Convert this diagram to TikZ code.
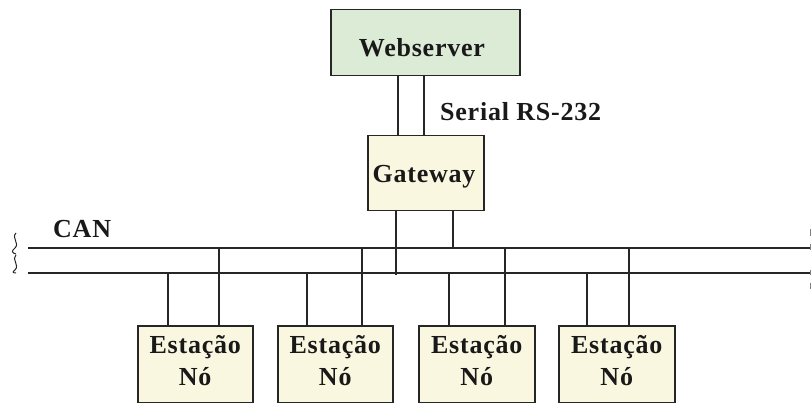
\documentclass[tikz,border=0pt]{standalone}
\usepackage{fontspec}
\setmainfont{Liberation Serif}[LetterSpace=3]
\begin{document}
\begin{tikzpicture}[x=1pt,y=-1pt,
  wire/.style={draw=black!85, line width=1.4pt},
  box/.style={draw=black!85, line width=1.5pt, inner sep=0pt, anchor=north west},
  serverbox/.style={box, fill={rgb,255:red,220;green,235;blue,214}},
  nodebox/.style={box, fill={rgb,255:red,250;green,247;blue,225}},
  lbl/.style={font=\fontsize{26}{30}\selectfont\bfseries, text=black!90, inner sep=0pt, anchor=base}]
\useasboundingbox (0,0) rectangle (811,403);

% boxes
\node[serverbox, minimum width=189pt, minimum height=66pt] (ws) at (330,9) {};
\node[nodebox, minimum width=116pt, minimum height=75pt] (gw) at (367,135) {};
\node[nodebox, minimum width=115pt, minimum height=77pt] (st1) at (137,325) {};
\node[nodebox, minimum width=115pt, minimum height=77pt] (st2) at (277,325) {};
\node[nodebox, minimum width=116pt, minimum height=77pt] (st3) at (418,325) {};
\node[nodebox, minimum width=116pt, minimum height=77pt] (st4) at (558,325) {};

% labels
\node[lbl] (wsT) at (422,57) {Webserver};
\node[lbl] (gwT) at (424,183) {Gateway};
\node[lbl, anchor=base west] (rs) at (440,121) {Serial RS-232};
\node[lbl, anchor=base west] (can) at (53,238) {CAN};
\foreach \s in {st1,st2,st3,st4}{
  \node[lbl] (\s a) at (\s.center |- 0,353) {Estação};
  \node[lbl] (\s b) at (\s.center |- 0,385) {Nó};
}

% CAN bus lines
\coordinate (busHL) at (28,248);
\coordinate (busHR) at (811,248);
\coordinate (busLL) at (28,273);
\coordinate (busLR) at (811,273);
\draw[wire] (busHL) -- (busHR);
\draw[wire] (busLL) -- (busLR);

% wavy break marks at the left end
\draw[black!85, line width=1pt]
  (16,233) .. controls (11,238) and (20,243) .. (15,248)
  .. controls (11,251) and (12,253) .. (16,254)
  (16,255) .. controls (11,259) and (20,265) .. (15,270)
  .. controls (12,272) and (13,273) .. (16,273);
\draw[black!50, line width=0.8pt] (810,229) -- (810,236) (810,244) -- (810,250)
  (810,270) -- (810,275) (810,283) -- (810,289);

% serial link
\draw[wire] (398,0 |- ws.south) -- (398,0 |- gw.north);
\draw[wire] (424,0 |- ws.south) -- (424,0 |- gw.north);

% gateway to bus
\draw[wire] (396,0 |- gw.south) -- (396,275);
\draw[wire] (453,0 |- gw.south) -- (453,0 |- busHL);

% stations to bus
\draw[wire] (168,0 |- st1.north) -- (168,0 |- busLL);
\draw[wire] (219,0 |- st1.north) -- (219,0 |- busHL);
\draw[wire] (307,0 |- st2.north) -- (307,0 |- busLL);
\draw[wire] (362,0 |- st2.north) -- (362,0 |- busHL);
\draw[wire] (449,0 |- st3.north) -- (449,0 |- busLL);
\draw[wire] (505,0 |- st3.north) -- (505,0 |- busHL);
\draw[wire] (587,0 |- st4.north) -- (587,0 |- busLL);
\draw[wire] (629,0 |- st4.north) -- (629,0 |- busHL);
\end{tikzpicture}
\end{document}
